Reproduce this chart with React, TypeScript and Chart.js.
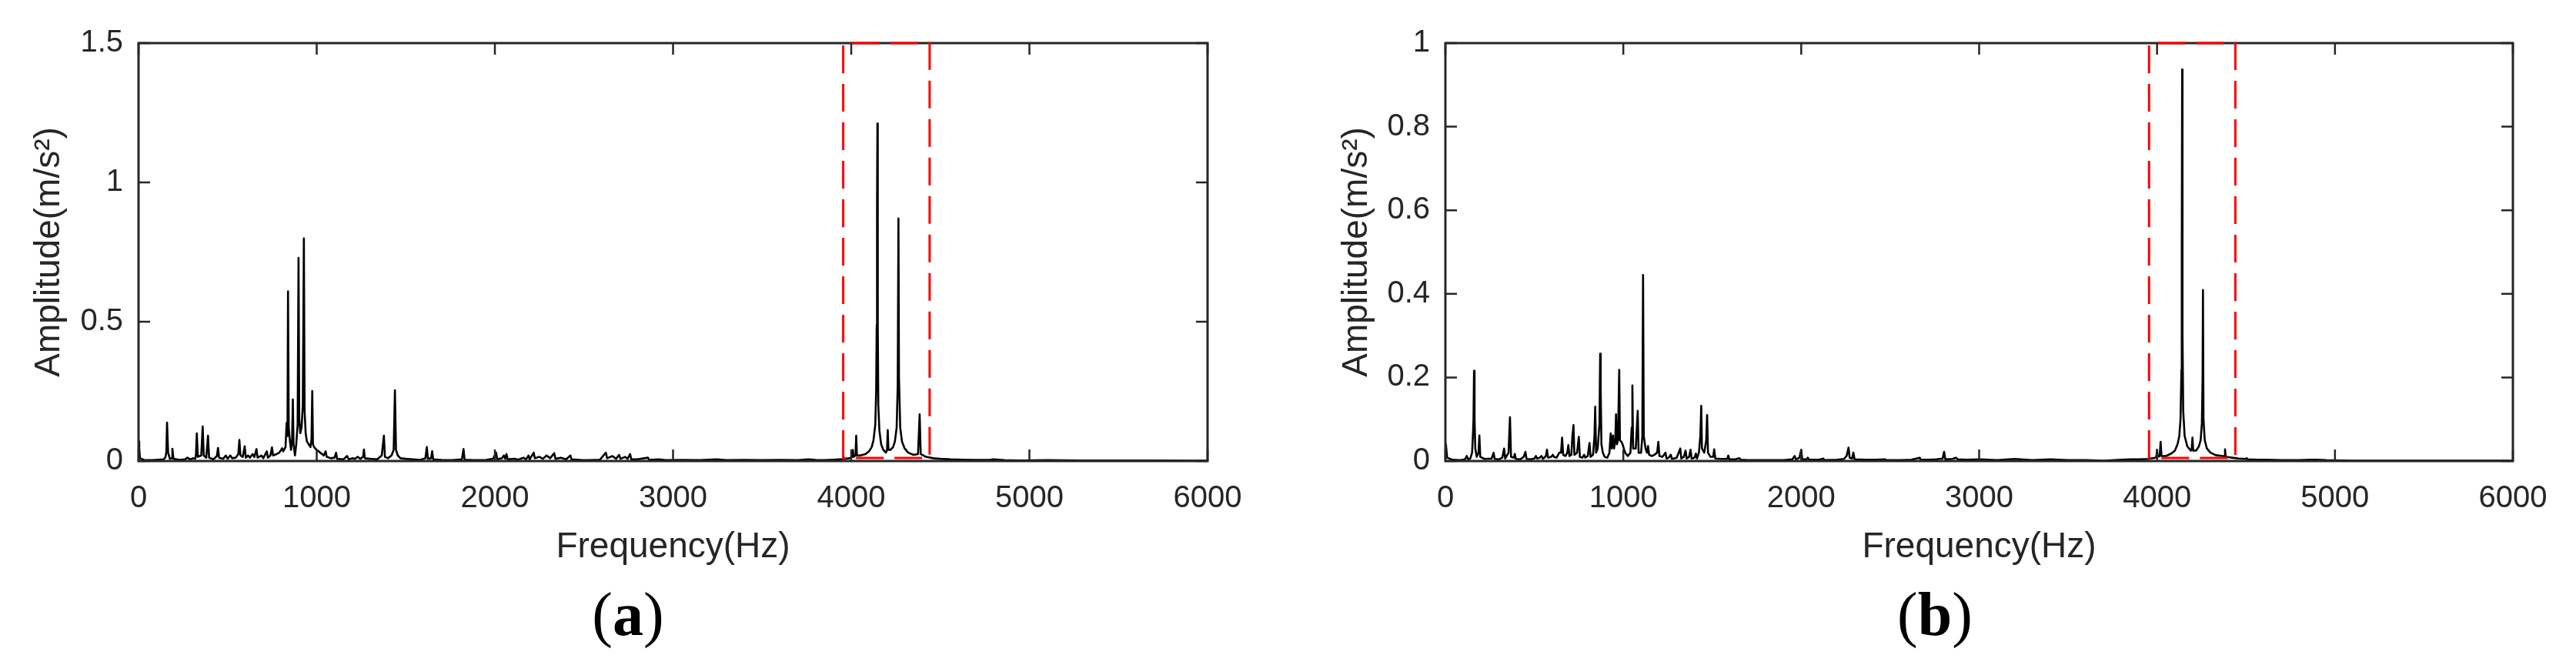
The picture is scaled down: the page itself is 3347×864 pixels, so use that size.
import React, { useEffect, useRef } from "react";
import { Chart, registerables } from "chart.js";

Chart.register(...registerables);

// ---------------- data ----------------
const X_TICKS = [0, 1000, 2000, 3000, 4000, 5000, 6000];
const Y_TICKS_A = [0, 0.5, 1, 1.5];
const Y_TICKS_B = [0, 0.2, 0.4, 0.6, 0.8, 1];
const X_TITLE = "Frequency(Hz)";
const Y_TITLE = "Amplitude(m/s²)";
const PANEL_LABELS = ["a", "b"];
const BOX_A = [3955, 4440];
const BOX_B = [3955, 4440];

const FREQ_A = [
  0, 4, 8, 30, 80, 140, 150, 156, 160, 166, 176, 186, 190, 196, 230, 260, 275, 290, 305, 318,
  322, 327, 333, 352, 360, 366, 380, 390, 396, 420, 440, 446, 452, 475, 490, 500, 515, 525, 545, 560,
  566, 572, 585, 596, 602, 615, 625, 640, 650, 662, 668, 690, 700, 720, 726, 740, 749, 755, 775, 790,
  806, 812, 825, 831, 836, 839, 843, 850, 856, 862, 866, 870, 878, 885, 893, 898, 902, 908, 915, 922,
  928, 932, 938, 945, 955, 965, 971, 975, 979, 985, 1000, 1020, 1040, 1050, 1056, 1080, 1100, 1109, 1114, 1150,
  1170, 1180, 1200, 1215, 1230, 1245, 1260, 1265, 1270, 1300, 1340, 1365, 1377, 1383, 1400, 1420, 1432, 1439, 1445, 1455,
  1470, 1500, 1540, 1580, 1610, 1618, 1624, 1642, 1648, 1654, 1700, 1760, 1815, 1824, 1830, 1880, 1950, 1990, 2007, 2013,
  2040, 2050, 2058, 2065, 2072, 2110, 2130, 2160, 2175, 2189, 2195, 2218, 2224, 2250, 2270, 2290, 2310, 2333, 2340, 2370,
  2400, 2424, 2430, 2480, 2530, 2590, 2623, 2630, 2660, 2680, 2697, 2705, 2730, 2745, 2759, 2766, 2800, 2859, 2866, 2920,
  2960, 3050, 3150, 3244, 3300, 3400, 3500, 3600, 3700, 3760, 3800, 3850, 3900, 3950, 3990, 4005, 4009, 4013, 4024, 4028,
  4032, 4050, 4080, 4100, 4115, 4125, 4135, 4140, 4143, 4145, 4147, 4149, 4152, 4158, 4168, 4180, 4195, 4201, 4205, 4209,
  4220, 4235, 4245, 4255, 4261, 4265, 4268, 4275, 4285, 4300, 4320, 4350, 4375, 4384, 4390, 4420, 4460, 4500, 4560, 4620,
  4700, 4780, 4800, 4860, 4950, 5100, 5300, 5500, 5700, 5900, 6000,
];
const AMP_A = [
  0.07, 0.045, 0.01, 0.004, 0.003, 0.006, 0.012, 0.03, 0.138, 0.03, 0.008, 0.01, 0.044, 0.008, 0.004, 0.006, 0.012, 0.006, 0.01, 0.008,
  0.02, 0.099, 0.015, 0.02, 0.124, 0.02, 0.012, 0.091, 0.012, 0.006, 0.018, 0.047, 0.012, 0.008, 0.02, 0.008, 0.02, 0.01, 0.012, 0.025,
  0.076, 0.02, 0.015, 0.053, 0.012, 0.02, 0.012, 0.025, 0.014, 0.043, 0.012, 0.02, 0.01, 0.035, 0.012, 0.02, 0.049, 0.02, 0.025, 0.03,
  0.046, 0.035, 0.05, 0.137, 0.09, 0.609, 0.12, 0.07, 0.04, 0.08, 0.221, 0.06, 0.02, 0.06, 0.13, 0.729, 0.15, 0.1, 0.12, 0.2,
  0.799, 0.18, 0.1, 0.07, 0.06, 0.05, 0.08, 0.251, 0.06, 0.05, 0.04, 0.03, 0.02, 0.035, 0.015, 0.01, 0.012, 0.03, 0.008, 0.006,
  0.018, 0.006, 0.01, 0.008, 0.015, 0.008, 0.015, 0.041, 0.01, 0.008, 0.006, 0.02, 0.091, 0.015, 0.01, 0.02, 0.04, 0.254, 0.04, 0.02,
  0.01, 0.008, 0.006, 0.004, 0.01, 0.05, 0.008, 0.01, 0.035, 0.006, 0.004, 0.003, 0.006, 0.043, 0.005, 0.003, 0.004, 0.008, 0.03, 0.006,
  0.01, 0.02, 0.008, 0.025, 0.006, 0.008, 0.005, 0.012, 0.006, 0.02, 0.006, 0.03, 0.01, 0.015, 0.008, 0.02, 0.01, 0.028, 0.008, 0.012,
  0.006, 0.02, 0.006, 0.004, 0.003, 0.005, 0.03, 0.01, 0.018, 0.008, 0.022, 0.008, 0.015, 0.008, 0.025, 0.006, 0.006, 0.012, 0.004, 0.006,
  0.003, 0.004, 0.003, 0.006, 0.003, 0.004, 0.003, 0.004, 0.003, 0.006, 0.004, 0.003, 0.005, 0.007, 0.01, 0.015, 0.04, 0.015, 0.02, 0.091,
  0.02, 0.02, 0.025, 0.035, 0.05, 0.075, 0.13, 0.25, 0.487, 0.924, 1.211, 0.487, 0.2, 0.11, 0.06, 0.04, 0.03, 0.04, 0.111, 0.04,
  0.04, 0.05, 0.07, 0.12, 0.274, 0.871, 0.3, 0.12, 0.07, 0.045, 0.03, 0.022, 0.025, 0.168, 0.025, 0.015, 0.01, 0.008, 0.006, 0.005,
  0.004, 0.005, 0.006, 0.003, 0.002, 0.003, 0.002, 0.002, 0.002, 0.001, 0.001,
];

const FREQ_B = [
  0, 3, 10, 40, 80, 110, 120, 128, 140, 150, 155, 158, 161, 164, 168, 176, 186, 191, 196, 220,
  260, 271, 277, 300, 320, 330, 336, 355, 363, 369, 385, 390, 396, 420, 440, 450, 456, 480, 500, 509,
  515, 530, 540, 548, 565, 571, 577, 595, 604, 610, 625, 640, 650, 656, 662, 675, 685, 691, 697, 708,
  714, 720, 725, 740, 750, 756, 770, 780, 786, 800, 810, 816, 830, 838, 842, 847, 856, 866, 870, 873,
  877, 885, 895, 910, 922, 929, 935, 942, 948, 955, 959, 964, 970, 977, 981, 989, 996, 1010, 1025, 1040,
  1047, 1051, 1055, 1070, 1081, 1086, 1100, 1107, 1111, 1115, 1125, 1133, 1139, 1145, 1160, 1175, 1190, 1197, 1203, 1220,
  1237, 1243, 1255, 1267, 1273, 1300, 1320, 1326, 1340, 1350, 1356, 1370, 1378, 1384, 1400, 1408, 1414, 1425, 1433, 1438,
  1442, 1455, 1466, 1471, 1476, 1490, 1505, 1511, 1517, 1550, 1584, 1590, 1596, 1630, 1652, 1660, 1700, 1800, 1900, 1950,
  1963, 1970, 1990, 2000, 2006, 2030, 2037, 2045, 2100, 2124, 2130, 2200, 2240, 2255, 2266, 2272, 2286, 2293, 2300, 2360,
  2420, 2472, 2480, 2560, 2620, 2666, 2672, 2720, 2760, 2795, 2803, 2810, 2850, 2870, 2880, 2930, 3006, 3100, 3200, 3300,
  3400, 3500, 3600, 3700, 3800, 3850, 3900, 3950, 3990, 3996, 4000, 4004, 4015, 4020, 4025, 4050, 4080, 4100, 4115, 4125,
  4132, 4137, 4139, 4141, 4143, 4147, 4155, 4170, 4190, 4195, 4199, 4203, 4220, 4235, 4245, 4252, 4256, 4258, 4261, 4268,
  4280, 4300, 4330, 4370, 4378, 4382, 4386, 4420, 4460, 4500, 4503, 4510, 4560, 4620, 4700, 4800, 4860, 4900, 4950, 5100,
  5400, 5700, 6000,
];
const AMP_B = [
  0.02, 0.04, 0.008, 0.003, 0.002, 0.004, 0.012, 0.004, 0.006, 0.02, 0.065, 0.1, 0.216, 0.1, 0.03, 0.01, 0.02, 0.061, 0.01, 0.005,
  0.006, 0.02, 0.005, 0.004, 0.008, 0.03, 0.006, 0.02, 0.105, 0.01, 0.008, 0.017, 0.005, 0.004, 0.01, 0.022, 0.005, 0.004, 0.006, 0.012,
  0.006, 0.008, 0.012, 0.005, 0.012, 0.027, 0.008, 0.01, 0.015, 0.01, 0.008, 0.02, 0.02, 0.056, 0.015, 0.012, 0.02, 0.038, 0.012, 0.015,
  0.06, 0.086, 0.015, 0.02, 0.058, 0.01, 0.008, 0.015, 0.008, 0.012, 0.043, 0.01, 0.015, 0.06, 0.13, 0.02, 0.03, 0.09, 0.257, 0.168,
  0.04, 0.02, 0.01, 0.008, 0.02, 0.066, 0.03, 0.061, 0.03, 0.05, 0.112, 0.04, 0.05, 0.218, 0.05, 0.046, 0.04, 0.02, 0.012, 0.02,
  0.08, 0.181, 0.03, 0.03, 0.12, 0.02, 0.02, 0.06, 0.445, 0.06, 0.03, 0.02, 0.036, 0.015, 0.012, 0.015, 0.02, 0.046, 0.012, 0.01,
  0.02, 0.006, 0.008, 0.015, 0.005, 0.008, 0.03, 0.006, 0.01, 0.025, 0.006, 0.01, 0.027, 0.006, 0.008, 0.018, 0.006, 0.02, 0.06, 0.132,
  0.03, 0.02, 0.05, 0.11, 0.02, 0.01, 0.01, 0.028, 0.006, 0.005, 0.005, 0.013, 0.004, 0.004, 0.007, 0.003, 0.002, 0.002, 0.002, 0.004,
  0.012, 0.004, 0.008, 0.027, 0.004, 0.004, 0.008, 0.003, 0.003, 0.006, 0.002, 0.003, 0.005, 0.012, 0.032, 0.008, 0.006, 0.02, 0.004, 0.003,
  0.003, 0.004, 0.002, 0.002, 0.003, 0.008, 0.003, 0.003, 0.004, 0.006, 0.022, 0.004, 0.005, 0.008, 0.004, 0.003, 0.004, 0.002, 0.005, 0.002,
  0.004, 0.002, 0.002, 0.001, 0.003, 0.004, 0.004, 0.005, 0.008, 0.01, 0.027, 0.01, 0.012, 0.046, 0.012, 0.012, 0.018, 0.025, 0.04, 0.06,
  0.1, 0.218, 0.5, 0.937, 0.3, 0.12, 0.06, 0.035, 0.025, 0.03, 0.056, 0.025, 0.025, 0.035, 0.05, 0.09, 0.2, 0.409, 0.1, 0.05,
  0.03, 0.02, 0.014, 0.012, 0.01, 0.028, 0.01, 0.008, 0.006, 0.005, 0.007, 0.004, 0.003, 0.003, 0.002, 0.002, 0.003, 0.003, 0.002, 0.001,
  0.001, 0.001, 0.001,
];

// ---------------- styling ----------------
const AXIS_COLOR = "#262626";
const SANS = '"Liberation Sans", Arial, Helvetica, sans-serif';
const SERIF = '"Liberation Serif", "Times New Roman", serif';
const CANVAS_H = 864;
const TITLE_SIZE = 46;

type Panel = {
  freq: number[];
  amp: number[];
  yTicks: number[];
  box: number[];
  label: string;
  canvasW: number;
  yWidth: number;
  padRight: number;
  yTitlePad: number;
  boxBottom: number;
};

const framePlugin = {
  id: "frame",
  afterDraw(chart: any, _args: any, opts: any) {
    const { ctx, chartArea } = chart;
    const { left, right, top, bottom } = chartArea;
    const xs = chart.scales.x;
    const ys = chart.scales.y;
    const p: Panel = opts.panel;
    ctx.save();
    // inward ticks
    ctx.strokeStyle = AXIS_COLOR;
    ctx.lineWidth = 2.5;
    ctx.beginPath();
    const TL = 15;
    for (const v of X_TICKS) {
      const px = xs.getPixelForValue(v);
      ctx.moveTo(px, bottom);
      ctx.lineTo(px, bottom - TL);
      ctx.moveTo(px, top);
      ctx.lineTo(px, top + TL);
    }
    for (const v of p.yTicks) {
      const py = ys.getPixelForValue(v);
      ctx.moveTo(left, py);
      ctx.lineTo(left + TL, py);
      ctx.moveTo(right, py);
      ctx.lineTo(right - TL, py);
    }
    ctx.stroke();
    // box
    ctx.lineWidth = 3;
    ctx.strokeRect(left, top, right - left, bottom - top);
    // red dashed rectangle
    const bx0 = xs.getPixelForValue(p.box[0]);
    const bx1 = xs.getPixelForValue(p.box[1]);
    const by0 = ys.getPixelForValue(p.boxBottom);
    const by1 = ys.getPixelForValue(p.yTicks[p.yTicks.length - 1]);
    ctx.strokeStyle = "#ff0000";
    ctx.lineWidth = 3;
    ctx.setLineDash([36, 14]);
    ctx.beginPath();
    ctx.moveTo(bx0, by0);
    ctx.lineTo(bx0, by1);
    ctx.lineTo(bx1, by1);
    ctx.lineTo(bx1, by0);
    ctx.closePath();
    ctx.stroke();
    ctx.setLineDash([]);
    // panel label (x)
    const size = 80;
    ctx.fillStyle = "#000";
    ctx.textBaseline = "alphabetic";
    ctx.textAlign = "left";
    ctx.font = `${size}px ${SERIF}`;
    const wp = ctx.measureText("(").width;
    const wq = ctx.measureText(")").width;
    ctx.font = `bold ${size}px ${SERIF}`;
    const wa = ctx.measureText(p.label).width;
    const cx = left + 636;
    const baseY = 825;
    let x = cx - (wp + wa + wq) / 2;
    ctx.font = `${size}px ${SERIF}`;
    ctx.fillText("(", x, baseY);
    x += wp;
    ctx.font = `bold ${size}px ${SERIF}`;
    ctx.fillText(p.label, x, baseY);
    x += wa;
    ctx.font = `${size}px ${SERIF}`;
    ctx.fillText(")", x, baseY);
    ctx.restore();
  },
};

function makeConfig(p: Panel): any {
  const data = p.freq.map((f, i) => ({ x: f, y: p.amp[i] }));
  const yMax = p.yTicks[p.yTicks.length - 1];
  return {
    type: "line",
    data: {
      datasets: [
        {
          data,
          borderColor: "#000",
          borderWidth: 2.6,
          borderJoinStyle: "round",
          pointRadius: 0,
          tension: 0,
          fill: false,
        },
      ],
    },
    options: {
      animation: false,
      responsive: false,
      devicePixelRatio: 1,
      layout: { padding: { top: 56, right: p.padRight, left: 0, bottom: 0 } },
      plugins: {
        legend: { display: false },
        tooltip: { enabled: false },
        frame: { panel: p },
      },
      scales: {
        x: {
          type: "linear",
          min: 0,
          max: 6000,
          grid: { display: false, drawTicks: false },
          border: { display: false },
          afterBuildTicks: (s: any) => {
            s.ticks = X_TICKS.map((v) => ({ value: v }));
          },
          afterFit: (s: any) => {
            s.height = CANVAS_H - 599;
          },
          ticks: {
            color: AXIS_COLOR,
            font: { family: SANS, size: 40 },
            padding: 25,
            maxRotation: 0,
            autoSkip: false,
            callback: (v: any) => String(v),
          },
          title: {
            display: true,
            text: X_TITLE,
            color: AXIS_COLOR,
            font: { family: SANS, size: TITLE_SIZE },
            padding: { top: 0, bottom: 125 },
          },
        },
        y: {
          type: "linear",
          min: 0,
          max: yMax,
          grid: { display: false, drawTicks: false },
          border: { display: false },
          afterBuildTicks: (s: any) => {
            s.ticks = p.yTicks.map((v) => ({ value: v }));
          },
          afterFit: (s: any) => {
            s.width = p.yWidth;
          },
          ticks: {
            color: AXIS_COLOR,
            font: { family: SANS, size: 40 },
            padding: 20,
            autoSkip: false,
            callback: (v: any) => String(v),
          },
          title: {
            display: true,
            text: Y_TITLE,
            color: AXIS_COLOR,
            font: { family: SANS, size: TITLE_SIZE },
            padding: { top: p.yTitlePad, bottom: 0 },
          },
        },
      },
    },
    plugins: [framePlugin],
  };
}

const PANELS: Panel[] = [
  {
    freq: FREQ_A,
    amp: AMP_A,
    yTicks: Y_TICKS_A,
    box: BOX_A,
    label: PANEL_LABELS[0],
    canvasW: 1673,
    yWidth: 180,
    padRight: 104,
    yTitlePad: 37,
    boxBottom: 0.011,
  },
  {
    freq: FREQ_B,
    amp: AMP_B,
    yTicks: Y_TICKS_B,
    box: BOX_B,
    label: PANEL_LABELS[1],
    canvasW: 1674,
    yWidth: 205,
    padRight: 82,
    yTitlePad: 62.4,
    boxBottom: 0.0075,
  },
];

function SpectrumChart({ panel }: { panel: Panel }) {
  const ref = useRef<HTMLCanvasElement | null>(null);
  useEffect(() => {
    if (!ref.current) return;
    const chart = new Chart(ref.current, makeConfig(panel));
    return () => chart.destroy();
  }, [panel]);
  return (
    <canvas
      ref={ref}
      width={panel.canvasW}
      height={CANVAS_H}
      style={{ display: "block", width: panel.canvasW, height: CANVAS_H }}
    />
  );
}

export default function App() {
  return (
    <div
      style={{
        position: "absolute",
        left: 0,
        top: 0,
        width: 3347,
        height: CANVAS_H,
        display: "flex",
        background: "#fff",
      }}
    >
      {PANELS.map((p, i) => (
        <SpectrumChart key={i} panel={p} />
      ))}
    </div>
  );
}
